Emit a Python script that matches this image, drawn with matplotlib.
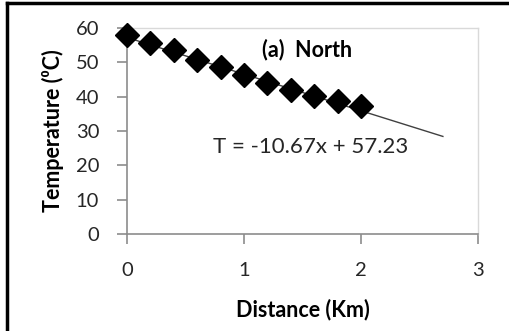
import matplotlib
matplotlib.use('Agg')
import matplotlib.pyplot as plt
import numpy as np
from matplotlib.lines import Line2D

# Data
distance = [0.0, 0.2, 0.4, 0.6, 0.8, 1.0, 1.2, 1.4, 1.6, 1.8, 2.0]
temperature = [58.0, 55.6, 53.5, 50.7, 48.5, 46.4, 44.0, 41.8, 40.1, 38.6, 37.4]
slope = -10.67
intercept = 57.23
trend_end = 2.7
x_ticks = [0, 1, 2, 3]
y_ticks = [0, 10, 20, 30, 40, 50, 60]

plt.rcParams['font.family'] = ['Lato', 'DejaVu Sans']

fig = plt.figure(figsize=(5.09, 3.31), dpi=100)
ax = fig.add_axes([127 / 509, 1 - 234 / 331, 351 / 509, 206 / 331])

# Linear trend line
xt = np.array([0.0, trend_end])
ax.plot(xt, slope * xt + intercept, color='#404040', linewidth=1.0, zorder=2)

# Data points
ax.plot(distance, temperature, linestyle='none', marker='D', markersize=12,
        color='black', zorder=3, clip_on=False)

ax.set_xlim(0, 3)
ax.set_ylim(0, 60)
ax.set_xticks(x_ticks)
ax.set_yticks(y_ticks)

for side in ['top', 'right']:
    ax.spines[side].set_color('#d9d9d9')
    ax.spines[side].set_linewidth(1.0)
for side in ['left', 'bottom']:
    ax.spines[side].set_color('#8c8c8c')
    ax.spines[side].set_linewidth(1.2)

ax.tick_params(axis='both', direction='out', length=7, width=1.2, color='#8c8c8c',
               labelsize=14.5, labelcolor='#262626')
ax.tick_params(axis='x', pad=13)
ax.tick_params(axis='y', pad=13)

ax.set_xlabel('Distance (Km)', fontsize=15.5, fontweight='bold', labelpad=14)
ax.set_ylabel('Temperature (\u2070C)', fontsize=15.5, fontweight='bold')
ax.yaxis.set_label_coords(-0.18, 0.5)

ax.text(1.154, 53.7, '(a)  North', fontsize=15.5, fontweight='bold', ha='left', va='center')
ax.text(0.735, 25.4, 'T = -10.67x + 57.23', fontsize=16, ha='left', va='center',
        color='#262626')

# Black frame (only left and top edges visible)
fig.add_artist(Line2D([7 / 509, 7 / 509], [0, 1 - 3 / 331], transform=fig.transFigure,
                      color='black', linewidth=2.5))
fig.add_artist(Line2D([7 / 509, 1], [1 - 3 / 331, 1 - 3 / 331], transform=fig.transFigure,
                      color='black', linewidth=2.5))

fig.savefig('out.png', dpi=100)
